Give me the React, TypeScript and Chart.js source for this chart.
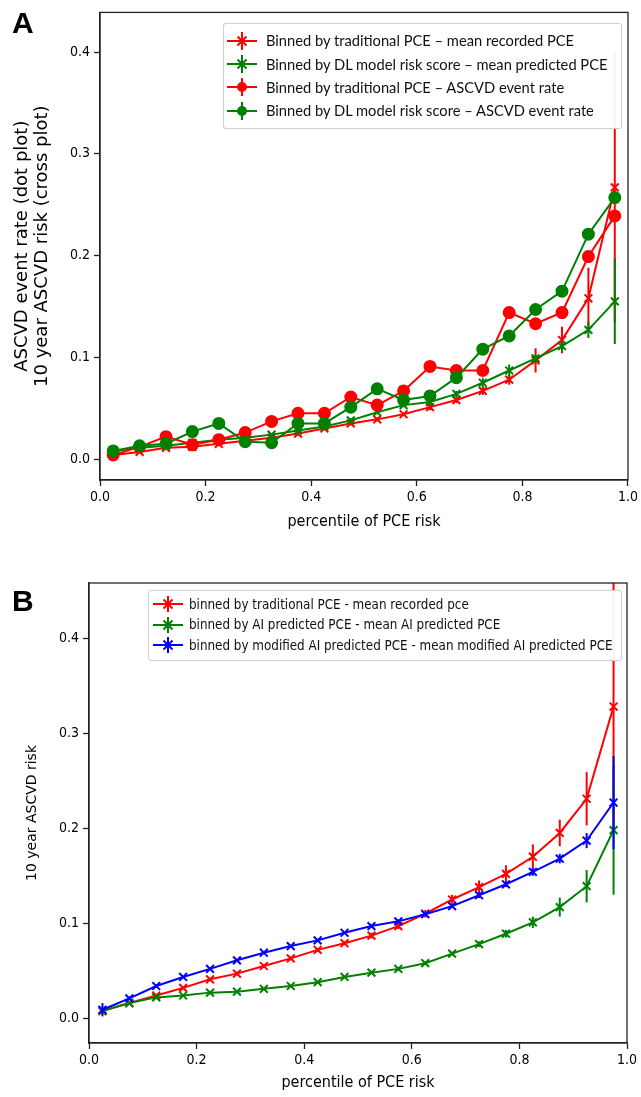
import React, { useEffect, useRef } from "react";
import { Chart, registerables } from "chart.js";

Chart.register(...registerables);

// ---------- data ----------
const xBins = [0.025, 0.075, 0.125, 0.175, 0.225, 0.275, 0.325, 0.375, 0.425, 0.475, 0.525, 0.575, 0.625, 0.675, 0.725, 0.775, 0.825, 0.875, 0.925, 0.975];

// Panel A
const aLabels = [
  "Binned by traditional PCE \u2013 mean recorded PCE",
  "Binned by DL model risk score \u2013 mean predicted PCE",
  "Binned by traditional PCE \u2013  ASCVD event rate",
  "Binned by DL model risk score \u2013 ASCVD event rate",
];
const aRecordedPce = [0.004, 0.007, 0.011, 0.012, 0.015, 0.018, 0.021, 0.025, 0.030, 0.035, 0.039, 0.044, 0.051, 0.058, 0.067, 0.078, 0.097, 0.117, 0.158, 0.267];
const aRecordedPceErr = [0.001, 0.001, 0.001, 0.001, 0.001, 0.001, 0.002, 0.002, 0.002, 0.002, 0.002, 0.002, 0.003, 0.003, 0.004, 0.005, 0.012, 0.013, 0.030, 0.133];
const aPredictedPce = [0.008, 0.011, 0.013, 0.016, 0.019, 0.021, 0.024, 0.028, 0.032, 0.038, 0.046, 0.053, 0.056, 0.064, 0.075, 0.087, 0.099, 0.111, 0.127, 0.155];
const aPredictedPceErr = [0.001, 0.001, 0.001, 0.001, 0.001, 0.001, 0.001, 0.001, 0.002, 0.002, 0.002, 0.002, 0.002, 0.003, 0.005, 0.006, 0.004, 0.005, 0.008, 0.042];
const aEventRateTrad = [0.004, 0.012, 0.022, 0.014, 0.019, 0.026, 0.037, 0.045, 0.045, 0.061, 0.053, 0.067, 0.091, 0.087, 0.087, 0.144, 0.133, 0.144, 0.199, 0.239];
const aEventRateDl = [0.008, 0.013, 0.015, 0.027, 0.035, 0.017, 0.016, 0.035, 0.035, 0.051, 0.069, 0.058, 0.062, 0.080, 0.108, 0.121, 0.147, 0.165, 0.221, 0.257];

// Panel B
const bLabels = [
  "binned by traditional PCE - mean recorded pce",
  "binned by AI predicted PCE - mean AI predicted PCE",
  "binned by modified AI predicted PCE - mean modified AI predicted PCE",
];
const bRecorded = [0.0075, 0.016, 0.024, 0.032, 0.041, 0.047, 0.055, 0.063, 0.072, 0.079, 0.087, 0.097, 0.110, 0.125, 0.138, 0.152, 0.170, 0.195, 0.231, 0.328];
const bRecordedErr = [0.003, 0.001, 0.001, 0.001, 0.001, 0.002, 0.002, 0.002, 0.002, 0.002, 0.003, 0.003, 0.004, 0.005, 0.007, 0.009, 0.013, 0.014, 0.028, 0.130];
const bAiPred = [0.008, 0.016, 0.022, 0.024, 0.027, 0.028, 0.031, 0.034, 0.038, 0.0435, 0.048, 0.052, 0.058, 0.068, 0.078, 0.089, 0.101, 0.117, 0.139, 0.198];
const bAiPredErr = [0.002, 0.001, 0.001, 0.001, 0.001, 0.001, 0.001, 0.001, 0.001, 0.001, 0.001, 0.002, 0.002, 0.002, 0.003, 0.004, 0.006, 0.010, 0.017, 0.068];
const bModAi = [0.009, 0.021, 0.034, 0.0435, 0.052, 0.061, 0.069, 0.076, 0.082, 0.090, 0.097, 0.102, 0.1095, 0.118, 0.1295, 0.141, 0.154, 0.168, 0.187, 0.227];
const bModAiErr = [0.007, 0.002, 0.002, 0.001, 0.001, 0.001, 0.001, 0.001, 0.001, 0.001, 0.002, 0.002, 0.002, 0.002, 0.003, 0.003, 0.004, 0.005, 0.008, 0.049];

const xTickValues = [0, 0.2, 0.4, 0.6, 0.8, 1.0];

const RED = "#ff0000";
const GREEN = "#008000";
const BLUE = "#0000ff";

const TICK_FONT = "'DejaVu Sans Condensed', 'DejaVu Sans', sans-serif";
const TITLE_FONT = "'DejaVu Sans', sans-serif";

// ---------- plugins ----------
const errorBarPlugin = {
  id: "errorBars",
  afterDatasetDraw(chart: any, args: any) {
    const ds = chart.data.datasets[args.index];
    const errs: number[] | undefined = ds.errors;
    if (!errs) return;
    const ys = chart.scales.y;
    const ctx = chart.ctx;
    const area = chart.chartArea;
    ctx.save();
    ctx.beginPath();
    ctx.rect(area.left, area.top, area.right - area.left, area.bottom - area.top);
    ctx.clip();
    ctx.strokeStyle = ds.borderColor;
    ctx.lineWidth = 2;
    args.meta.data.forEach((pt: any, i: number) => {
      const v = ds.data[i].y;
      const e = errs[i];
      const y1 = ys.getPixelForValue(v - e);
      const y2 = ys.getPixelForValue(v + e);
      ctx.beginPath();
      ctx.moveTo(pt.x, y1);
      ctx.lineTo(pt.x, y2);
      ctx.stroke();
    });
    ctx.restore();
  },
};

const framePlugin = {
  id: "frame",
  afterDraw(chart: any) {
    const { left, top, right, bottom } = chart.chartArea;
    const ctx = chart.ctx;
    ctx.save();
    ctx.strokeStyle = "#222";
    ctx.lineWidth = 1.3;
    ctx.strokeRect(left, top, right - left, bottom - top);
    ctx.restore();
  },
};

function makeDataset(label: string, values: number[], errs: number[], color: string, style: "crossRot" | "circle", idx: number, n: number) {
  return {
    label,
    data: xBins.map((x, i) => ({ x, y: values[i] })),
    errors: errs,
    borderColor: color,
    backgroundColor: color,
    borderWidth: 2,
    pointStyle: style,
    pointRadius: style === "circle" ? 5.5 : 5.5,
    pointBorderWidth: 2,
    pointBackgroundColor: color,
    pointBorderColor: color,
    tension: 0,
    fill: false,
    order: n - idx,
  };
}

function scales(yMin: number, yMax: number, yWidth: number, xHeight: number, yTitle: string | string[], yTitleSize: number, yTitleLh: number, yTitlePadTop: number, xTitlePadBottom: number) {
  return {
    x: {
      type: "linear",
      min: 0,
      max: 1,
      afterBuildTicks: (s: any) => {
        s.ticks = xTickValues.map((v) => ({ value: v }));
      },
      afterFit: (s: any) => {
        s.height = xHeight;
      },
      ticks: {
        color: "#000",
        font: { family: TICK_FONT, size: 14 },
        padding: 3,
        maxRotation: 0,
        autoSkip: false,
        callback: (v: any) => Number(v).toFixed(1),
      },
      grid: { drawOnChartArea: false, drawTicks: true, tickLength: 6, color: "#222", tickWidth: 1.3 },
      border: { display: true, color: "#222", width: 1.3 },
      title: {
        display: true,
        text: "percentile of PCE risk",
        color: "#000",
        font: { family: TICK_FONT, size: 16, lineHeight: 1.125 },
        padding: { top: 0, bottom: xTitlePadBottom },
      },
    },
    y: {
      type: "linear",
      min: yMin,
      max: yMax,
      afterFit: (s: any) => {
        s.width = yWidth;
      },
      ticks: {
        stepSize: 0.1,
        includeBounds: false,
        color: "#000",
        font: { family: TICK_FONT, size: 14 },
        padding: 4,
        callback: (v: any) => Number(v).toFixed(1),
      },
      grid: { drawOnChartArea: false, drawTicks: true, tickLength: 6, color: "#222", tickWidth: 1.3 },
      border: { display: true, color: "#222", width: 1.3 },
      title: {
        display: true,
        text: yTitle,
        color: "#000",
        font: { family: TITLE_FONT, size: yTitleSize, lineHeight: yTitleLh },
        padding: { top: yTitlePadTop, bottom: 0 },
      },
    },
  };
}

function configA(): any {
  const n = 4;
  return {
    type: "line",
    data: {
      datasets: [
        makeDataset(aLabels[0], aRecordedPce, aRecordedPceErr, RED, "crossRot", 0, n),
        makeDataset(aLabels[1], aPredictedPce, aPredictedPceErr, GREEN, "crossRot", 1, n),
        makeDataset(aLabels[2], aEventRateTrad, aEventRateTrad.map(() => 0.001), RED, "circle", 2, n),
        makeDataset(aLabels[3], aEventRateDl, aEventRateDl.map(() => 0.001), GREEN, "circle", 3, n),
      ],
    },
    options: {
      responsive: false,
      animation: false,
      layout: { padding: { left: 0, top: 11, right: 12, bottom: 0 } },
      plugins: { legend: { display: false }, tooltip: { enabled: false } },
      scales: scales(-0.0206, 0.439, 100, 65, ["ASCVD event rate (dot plot)", "10 year ASCVD risk (cross plot)"], 18, 20 / 18, 12, 14),
    },
    plugins: [errorBarPlugin, framePlugin],
  };
}

function configB(): any {
  const n = 3;
  return {
    type: "line",
    data: {
      datasets: [
        makeDataset(bLabels[0], bRecorded, bRecordedErr, RED, "crossRot", 0, n),
        makeDataset(bLabels[1], bAiPred, bAiPredErr, GREEN, "crossRot", 1, n),
        makeDataset(bLabels[2], bModAi, bModAiErr, BLUE, "crossRot", 2, n),
      ],
    },
    options: {
      responsive: false,
      animation: false,
      layout: { padding: { left: 0, top: 38, right: 14, bottom: 0 } },
      plugins: { legend: { display: false }, tooltip: { enabled: false } },
      scales: scales(-0.026, 0.458, 89, 54, "10 year ASCVD risk", 14, 18 / 14, 23, 5),
    },
    plugins: [errorBarPlugin, framePlugin],
  };
}

function ChartCanvas({ make, top, height }: { make: () => any; top: number; height: number }) {
  const ref = useRef<HTMLCanvasElement | null>(null);
  useEffect(() => {
    if (!ref.current) return;
    const c = new Chart(ref.current, make());
    return () => c.destroy();
  }, []);
  return (
    <canvas
      ref={ref}
      width={641}
      height={height}
      style={{ position: "absolute", left: 0, top, width: 641, height }}
    />
  );
}

function Icon({ color, marker, h }: { color: string; marker: "x" | "o"; h: number }) {
  const w = 30;
  const cy = h / 2;
  return (
    <svg width={w} height={h} style={{ flex: "none", display: "block" }}>
      <line x1={0} y1={cy} x2={w} y2={cy} stroke={color} strokeWidth={2} />
      <line x1={w / 2} y1={1} x2={w / 2} y2={h - 1} stroke={color} strokeWidth={2} />
      {marker === "x" ? (
        <g stroke={color} strokeWidth={2}>
          <line x1={w / 2 - 4.5} y1={cy - 4.5} x2={w / 2 + 4.5} y2={cy + 4.5} />
          <line x1={w / 2 - 4.5} y1={cy + 4.5} x2={w / 2 + 4.5} y2={cy - 4.5} />
        </g>
      ) : (
        <circle cx={w / 2} cy={cy} r={5} fill={color} />
      )}
    </svg>
  );
}

function Legend({ items, left, top, width, rowH, padTop, padLeft, gap, font, fontSize, iconH }: any) {
  return (
    <div
      style={{
        position: "absolute",
        left,
        top,
        width,
        boxSizing: "border-box",
        background: "rgba(255,255,255,0.94)",
        border: "1px solid #d0d0d0",
        borderRadius: 3,
        paddingTop: padTop,
        paddingBottom: padTop + 1,
        paddingLeft: padLeft,
        boxShadow: "0 0 1px rgba(0,0,0,0.15)",
      }}
    >
      {items.map((it: any, i: number) => (
        <div key={i} style={{ display: "flex", alignItems: "center", height: rowH }}>
          <Icon color={it.color} marker={it.marker} h={iconH} />
          <span
            style={{
              marginLeft: gap,
              fontFamily: font,
              fontSize,
              color: "#111",
              whiteSpace: "nowrap",
              lineHeight: 1,
            }}
          >
            {it.label}
          </span>
        </div>
      ))}
    </div>
  );
}

export default function App() {
  const aItems = [
    { label: aLabels[0], color: RED, marker: "x" },
    { label: aLabels[1], color: GREEN, marker: "x" },
    { label: aLabels[2], color: RED, marker: "o" },
    { label: aLabels[3], color: GREEN, marker: "o" },
  ];
  const bItems = [
    { label: bLabels[0], color: RED, marker: "x" },
    { label: bLabels[1], color: GREEN, marker: "x" },
    { label: bLabels[2], color: BLUE, marker: "x" },
  ];
  return (
    <div style={{ position: "absolute", left: 0, top: 0, width: 641, height: 1097, background: "#fff", overflow: "hidden" }}>
      <ChartCanvas make={configA} top={0} height={545} />
      <ChartCanvas make={configB} top={545} height={552} />
      <Legend
        items={aItems}
        left={223}
        top={23}
        width={399}
        rowH={23.3}
        padTop={5}
        padLeft={3}
        gap={9}
        font="Lato, 'DejaVu Sans Condensed', sans-serif"
        fontSize={14.7}
        iconH={20}
      />
      <Legend
        items={bItems}
        left={148}
        top={590}
        width={474}
        rowH={20.5}
        padTop={3}
        padLeft={4}
        gap={6}
        font={TICK_FONT}
        fontSize={13.3}
        iconH={18}
      />
      <div style={{ position: "absolute", left: 12, top: 8, fontFamily: "'Liberation Sans', Arial, sans-serif", fontWeight: 700, fontSize: 30, lineHeight: "30px", color: "#000" }}>A</div>
      <div style={{ position: "absolute", left: 12, top: 586, fontFamily: "'Liberation Sans', Arial, sans-serif", fontWeight: 700, fontSize: 30, lineHeight: "30px", color: "#000" }}>B</div>
    </div>
  );
}
